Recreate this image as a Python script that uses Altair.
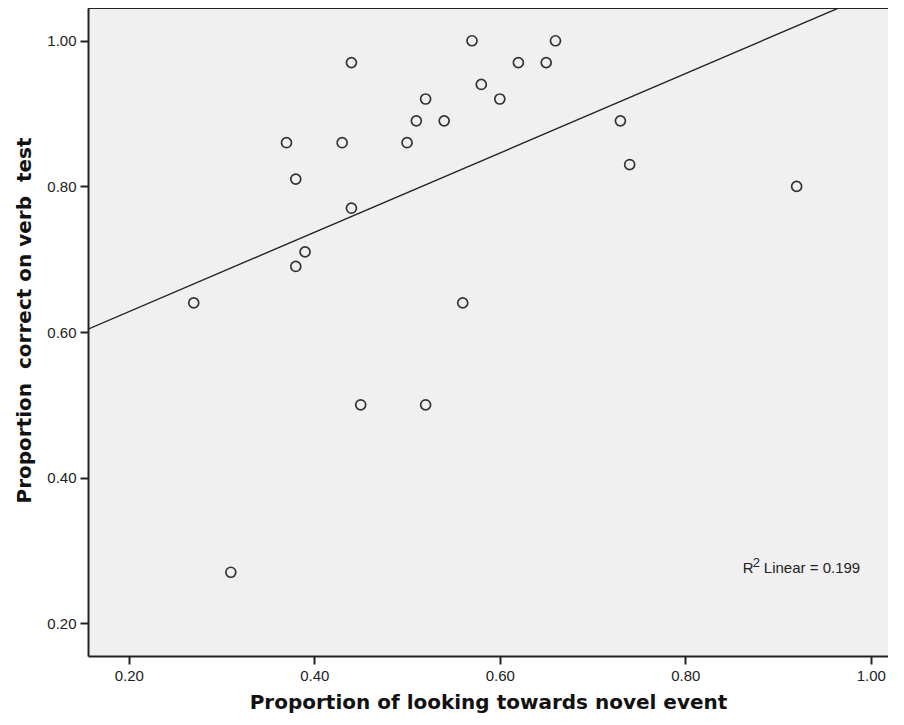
import altair as alt
import pandas as pd

# Data
look = [0.27, 0.31, 0.37, 0.38, 0.38, 0.39, 0.43, 0.44, 0.44, 0.45,
        0.50, 0.51, 0.52, 0.52, 0.54, 0.56, 0.57, 0.58, 0.60, 0.62,
        0.65, 0.66, 0.73, 0.74, 0.92]
verb = [0.64, 0.27, 0.86, 0.81, 0.69, 0.71, 0.86, 0.97, 0.77, 0.50,
        0.86, 0.89, 0.92, 0.50, 0.89, 0.64, 1.00, 0.94, 0.92, 0.97,
        0.97, 1.00, 0.89, 0.83, 0.80]
x_ticks = [0.2, 0.4, 0.6, 0.8, 1.0]
y_ticks = [0.2, 0.4, 0.6, 0.8, 1.0]
x_domain = [0.156, 1.0185]
y_domain = [0.155, 1.045]
note_x = [0.862]
note_y = [0.276]
note_r = ["R"]
note_sup = ["2"]
note_rest = ["Linear = 0.199"]

df = pd.DataFrame({"look": look, "verb": verb})
notes = pd.DataFrame({"x": note_x, "y": note_y, "r": note_r,
                      "s": note_sup, "t": note_rest})

W, H = 800, 648

xscale = alt.Scale(domain=x_domain, nice=False, zero=False)
yscale = alt.Scale(domain=y_domain, nice=False, zero=False)

x_axis = alt.Axis(values=x_ticks, format=".2f",
                  title="Proportion of looking towards novel event",
                  titlePadding=9, labelPadding=4)
y_axis = alt.Axis(values=y_ticks, format=".2f",
                  title="Proportion\u00a0 correct on verb\u00a0 test",
                  titlePadding=12, labelPadding=4, titleY=312)

points = alt.Chart(df).mark_point(
    shape="circle", filled=False, size=100, color="#333333",
    strokeWidth=1.7, opacity=1
).encode(
    x=alt.X("look:Q", scale=xscale, axis=x_axis),
    y=alt.Y("verb:Q", scale=yscale, axis=y_axis),
)

line = alt.Chart(df).transform_regression(
    "look", "verb", extent=x_domain
).mark_line(color="#222222", strokeWidth=1.4, clip=True).encode(
    x=alt.X("look:Q", scale=xscale),
    y=alt.Y("verb:Q", scale=yscale),
)

note_base = alt.Chart(notes).encode(
    x=alt.X("x:Q", scale=xscale),
    y=alt.Y("y:Q", scale=yscale),
)
note1 = note_base.mark_text(
    align="left", baseline="middle", font="Liberation Sans",
    fontSize=15, color="#222222"
).encode(text="r:N")
note2 = note_base.mark_text(
    align="left", baseline="middle", font="Liberation Sans",
    fontSize=13, color="#222222", dx=10, dy=-5
).encode(text="s:N")
note3 = note_base.mark_text(
    align="left", baseline="middle", font="Liberation Sans",
    fontSize=15, color="#222222", dx=21
).encode(text="t:N")

top_border = alt.Chart(notes).mark_rule(
    color="#222222", strokeWidth=2
).encode(x=alt.value(0), x2=alt.value(W), y=alt.value(0))

chart = alt.layer(line, points, note1, note2, note3, top_border).properties(
    width=W, height=H,
    autosize=alt.AutoSizeParams(type="none"),
    padding={"left": 80, "top": 0, "right": 0, "bottom": 61},
).configure_view(
    fill="#f0f0f0", stroke=None
).configure_axis(
    grid=False, domain=True, domainColor="#222222", domainWidth=2,
    tickColor="#222222", tickWidth=2, tickSize=8,
    labelFont="Liberation Sans", labelFontSize=15, labelColor="#222222",
    titleFont="DejaVu Sans", titleFontSize=20, titleFontWeight="bold",
    titleColor="#111111",
)

chart.save("out.html", embed_options={"renderer": "svg", "actions": False})
